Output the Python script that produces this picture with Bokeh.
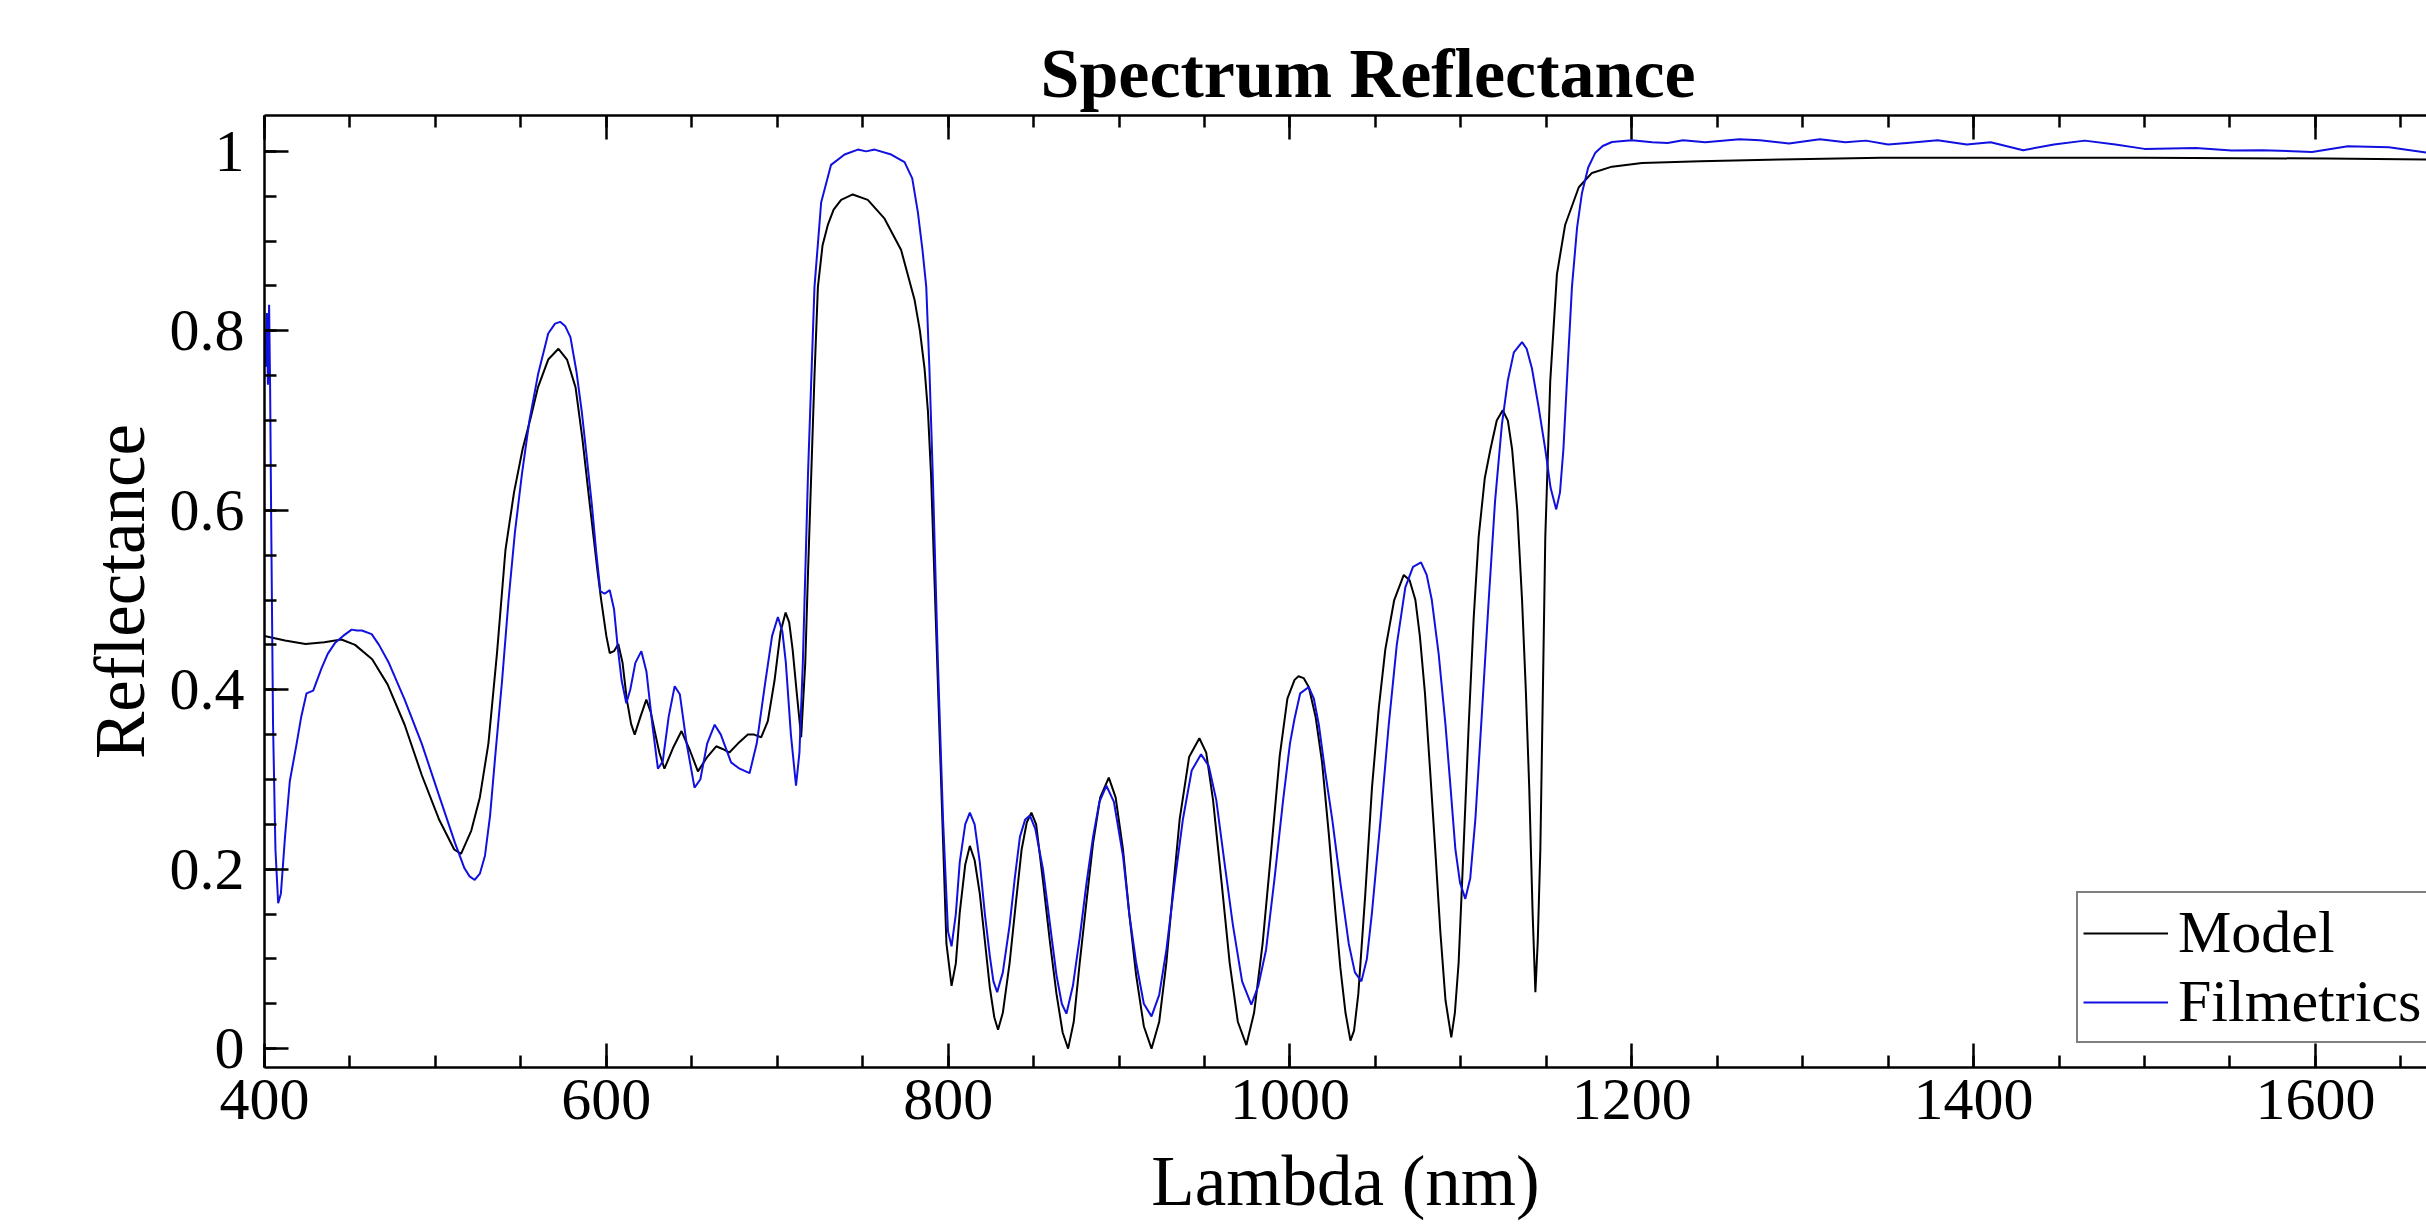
from bokeh.plotting import figure
from bokeh.models import (Range1d, LinearAxis, SingleIntervalTicker, CustomJSTickFormatter,
                          Legend, LegendItem)
from bokeh.embed import file_html
from bokeh.resources import INLINE

# ---- data ----
lam_model = [400, 412, 424, 435, 445, 453, 463, 472, 482, 492, 502, 511, 515, 521, 526, 531, 536,
             541, 546, 551, 556, 560, 566, 572, 577, 582, 586, 590, 595, 597, 600, 602, 604.5, 607,
             609.5, 612, 614.5, 616.6, 620, 623.4, 626, 628.3, 631, 634, 639, 644, 649, 653.6, 659,
             664.3, 668, 672, 677, 682.8, 686.5, 690.6, 694.5, 698.4, 702, 704.9, 707, 709, 711.5,
             714, 716.4, 718, 719.9, 721.8, 723.8, 726.5, 729.6, 733, 737.4, 744.2, 753, 762.8,
             772.5, 780.3, 783.5, 786.2, 788.2, 790, 793, 796, 799, 802,
             804.5, 806.8, 810, 812.7, 815.5, 818.5, 821.5, 824.4, 827, 829.2, 832, 836, 839.5, 843,
             846, 848.7, 851.5, 855.5, 859.5, 863.4, 867, 870.2, 873.5, 877, 881, 884.8, 889, 894,
             898, 902.3, 906, 910, 914.5, 919, 923.5, 927.7, 931.5, 935.5, 941, 947, 951, 955, 960,
             964.7, 969.5, 974.5, 979, 984, 989, 994, 998.5, 1002.7, 1005, 1008, 1011, 1015, 1018.8,
             1022.7, 1026.6, 1029.5, 1032.5, 1035.4, 1037.5, 1040, 1044, 1048, 1052, 1055.8, 1061,
             1066.6, 1070, 1073.4, 1076, 1079, 1082, 1085, 1088, 1091, 1094.4, 1096.5, 1098.7,
             1101.5, 1104.6, 1107.5, 1110.4, 1114, 1117.3, 1121, 1124.5, 1127.5, 1130, 1133, 1135.8,
             1138, 1140, 1142, 1143.6, 1145, 1146.5, 1148, 1149.4, 1152.3, 1156.2, 1161, 1169,
             1176.7, 1188.4, 1206, 1240, 1287, 1346, 1420, 1500, 1607, 1666]
r_model = [0.460, 0.455, 0.451, 0.453, 0.456, 0.450, 0.434, 0.406, 0.361, 0.305, 0.256, 0.222,
           0.217, 0.243, 0.280, 0.340, 0.440, 0.556, 0.620, 0.668, 0.705, 0.737, 0.768, 0.780, 0.768,
           0.737, 0.680, 0.612, 0.530, 0.500, 0.460, 0.441, 0.443, 0.451, 0.430, 0.389, 0.362, 0.350,
           0.370, 0.389, 0.375, 0.354, 0.330, 0.312, 0.335, 0.354, 0.332, 0.309, 0.325, 0.337, 0.334,
           0.330, 0.340, 0.350, 0.350, 0.347, 0.365, 0.410, 0.465, 0.486, 0.475, 0.445, 0.395, 0.347,
           0.430, 0.530, 0.640, 0.750, 0.849, 0.895, 0.918, 0.935, 0.946, 0.952, 0.946, 0.925, 0.890,
           0.835, 0.800, 0.758, 0.710, 0.640, 0.466, 0.291, 0.117, 0.070,
           0.095, 0.152, 0.205, 0.226, 0.210, 0.173, 0.120, 0.068, 0.035, 0.021, 0.040, 0.096, 0.160,
           0.222, 0.252, 0.263, 0.250, 0.187, 0.120, 0.061, 0.018, 0.000, 0.030, 0.096, 0.165, 0.229,
           0.280, 0.302, 0.280, 0.222, 0.150, 0.082, 0.025, 0.000, 0.030, 0.096, 0.175, 0.256, 0.325,
           0.346, 0.330, 0.277, 0.185, 0.096, 0.030, 0.004, 0.040, 0.117, 0.220, 0.326, 0.390, 0.411,
           0.415, 0.413, 0.403, 0.370, 0.319, 0.240, 0.152, 0.090, 0.040, 0.009, 0.020, 0.061, 0.170,
           0.291, 0.380, 0.445, 0.500, 0.528, 0.522, 0.500, 0.460, 0.396, 0.310, 0.222, 0.130, 0.054,
           0.0125, 0.040, 0.096, 0.220, 0.361, 0.480, 0.570, 0.636, 0.668, 0.700, 0.7115, 0.700,
           0.668, 0.600, 0.500, 0.400, 0.291, 0.150, 0.063, 0.120, 0.222, 0.400, 0.570, 0.744, 0.863,
           0.918, 0.960, 0.976, 0.983, 0.987, 0.989, 0.991, 0.993, 0.993, 0.993, 0.992, 0.991]

lam_film = [400, 400.7, 401.4, 402, 402.7, 403.3, 404, 405, 406.4, 408, 409.6, 412, 414.8, 418.8,
            421.5, 424.6, 428.5, 433.4, 437, 441.2, 446, 451, 454, 457, 462.7, 467, 472.5, 482, 492,
            501.8, 511.5, 517, 520, 523, 526, 529, 532, 535, 539, 542.8, 546.5, 550.6, 555, 560, 566,
            570, 573, 576, 579, 582.5, 585.7, 588.5, 591.6, 594, 596.5, 599, 602, 604.5, 606.8, 609,
            611.7, 614, 617, 620.5, 623.5, 627, 630.2, 633, 636.5, 640, 643, 647, 651.6, 655, 659,
            663.4, 667, 673, 678, 683.8, 688, 692.6, 697, 700.4, 703, 705, 708, 711, 713, 715, 718,
            721.8, 725.7, 731.5, 739.4, 747.2, 752, 757, 766.7, 774.5, 779, 782.3, 785, 787.2, 789,
            791, 794, 797, 799.9, 802,
            804.5, 806.8, 810, 812.7, 815.5, 818.5, 821.5, 824.4, 826.5, 828.7, 832, 836, 839, 842,
            845, 847.8, 851, 855.5, 859.5, 863.4, 866.5, 869.2, 873, 877, 881, 884.8, 888.5, 892.6,
            897, 902.3, 906, 910, 914.5, 919, 923.5, 927.7, 932.5, 937.4, 942.5, 948, 952.5, 956.9,
            961.5, 966.6, 972, 977.4, 981.5, 986, 991, 996, 1000, 1002.7, 1006, 1011, 1014, 1016.9,
            1020.5, 1024.7, 1029.5, 1034.4, 1038, 1041.8, 1045, 1048, 1053, 1057.8, 1062.5, 1067.5,
            1072, 1076.7, 1080, 1083, 1087, 1091, 1094, 1096.8, 1099.5, 1102.6, 1105.5, 1108.5,
            1112.5, 1116.3, 1120, 1124, 1127.5, 1131, 1135.8, 1138.5, 1141.6, 1145.5, 1149.4, 1152.5,
            1155.8, 1158, 1160, 1162.5, 1165, 1168, 1170.8, 1174.5, 1178.7, 1183, 1188.4, 1200,
            1212, 1221, 1230, 1243, 1263, 1275, 1292, 1310, 1325, 1337, 1350, 1361, 1379, 1396,
            1410, 1429, 1447, 1465, 1483, 1500, 1530, 1551, 1569, 1598, 1619, 1643, 1666]
r_film = [0.800, 0.760, 0.820, 0.740, 0.829, 0.735, 0.570, 0.361, 0.222, 0.162, 0.173, 0.236, 0.298,
          0.340, 0.370, 0.396, 0.399, 0.424, 0.440, 0.452, 0.460, 0.467, 0.466, 0.466, 0.462, 0.450,
          0.431, 0.389, 0.340, 0.284, 0.229, 0.201, 0.192, 0.188, 0.195, 0.215, 0.260, 0.326, 0.410,
          0.500, 0.575, 0.640, 0.700, 0.751, 0.797, 0.808, 0.810, 0.805, 0.793, 0.755, 0.709, 0.660,
          0.605, 0.555, 0.510, 0.507, 0.511, 0.490, 0.445, 0.410, 0.385, 0.400, 0.430, 0.443, 0.420,
          0.360, 0.312, 0.320, 0.370, 0.404, 0.395, 0.340, 0.291, 0.300, 0.340, 0.361, 0.350, 0.319,
          0.312, 0.307, 0.340, 0.403, 0.460, 0.481, 0.465, 0.431, 0.350, 0.293, 0.330, 0.431, 0.640,
          0.849, 0.943, 0.985, 0.9965, 1.002, 1.000, 1.002, 0.9965, 0.988, 0.970, 0.932, 0.890,
          0.849, 0.760, 0.640, 0.431, 0.256, 0.131, 0.114,
          0.150, 0.208, 0.250, 0.263, 0.250, 0.208, 0.150, 0.103, 0.075, 0.063, 0.085, 0.138, 0.190,
          0.236, 0.255, 0.260, 0.245, 0.200, 0.140, 0.082, 0.050, 0.039, 0.070, 0.124, 0.185, 0.236,
          0.275, 0.293, 0.275, 0.215, 0.150, 0.096, 0.050, 0.036, 0.060, 0.110, 0.185, 0.256, 0.310,
          0.328, 0.315, 0.277, 0.210, 0.138, 0.075, 0.049, 0.070, 0.110, 0.190, 0.277, 0.340, 0.368,
          0.396, 0.403, 0.390, 0.361, 0.310, 0.256, 0.185, 0.117, 0.085, 0.075, 0.100, 0.152, 0.255,
          0.361, 0.450, 0.514, 0.537, 0.542, 0.528, 0.500, 0.440, 0.361, 0.290, 0.222, 0.185, 0.167,
          0.190, 0.256, 0.380, 0.500, 0.610, 0.6955, 0.745, 0.776, 0.7875, 0.780, 0.758, 0.715,
          0.668, 0.625, 0.601, 0.620, 0.668, 0.760, 0.849, 0.915, 0.953, 0.982, 0.9986, 1.006,
          1.0105, 1.0124, 1.0102, 1.0094, 1.0124, 1.0102, 1.0135, 1.0124, 1.0087, 1.0135, 1.0102,
          1.012, 1.0076, 1.0094, 1.0124, 1.0076, 1.0102, 1.0013, 1.0076, 1.012, 1.0076, 1.0028,
          1.0039, 1.0009, 1.0013, 0.9994, 1.0057, 1.0046, 0.9983]

series_names = ["Model", "Filmetrics"]
x_ticks_interval = 200
y_ticks_interval = 0.2

FONT = "Liberation Serif"

p = figure(width=2426, height=1232, output_backend="svg", toolbar_location=None,
           x_range=Range1d(400, 1665), y_range=Range1d(-0.021, 1.040),
           title="Spectrum Reflectance",
           x_axis_label="Lambda (nm)", y_axis_label="Reflectance",
           min_border_left=264, min_border_right=0, min_border_top=115, min_border_bottom=165)

p.grid.visible = False
p.outline_line_color = None
p.background_fill_color = "white"
p.border_fill_color = "white"

p.title.text_font = FONT
p.title.text_font_size = "70px"
p.title.text_font_style = "bold"
p.title.text_color = "black"
p.title.align = "left"
p.title.offset = 776
p.title.standoff = 7

bottom_axis = p.below[0]
left_axis = p.left[0]

xt = SingleIntervalTicker(interval=x_ticks_interval, num_minor_ticks=4)
yt = SingleIntervalTicker(interval=y_ticks_interval, num_minor_ticks=4)
bottom_axis.ticker = xt
left_axis.ticker = yt
left_axis.formatter = CustomJSTickFormatter(code="return (Math.round(tick*10)/10).toString();")

top_axis = LinearAxis(ticker=xt, formatter=CustomJSTickFormatter(code="return '';"),
                      major_label_text_font_size="0px", major_label_standoff=0)
p.add_layout(top_axis, "above")

for ax in [bottom_axis, left_axis, top_axis]:
    ax.axis_line_width = 2.5
    ax.axis_line_color = "black"
    ax.major_tick_in = 24
    ax.major_tick_out = 0
    ax.minor_tick_in = 12
    ax.minor_tick_out = 0
    ax.major_tick_line_width = 2.5
    ax.minor_tick_line_width = 2.5
    ax.major_tick_line_color = "black"
    ax.minor_tick_line_color = "black"

for ax in [bottom_axis, left_axis]:
    ax.major_label_text_font = FONT
    ax.major_label_text_font_size = "60px"
    ax.major_label_text_color = "black"
    ax.axis_label_text_font = FONT
    ax.axis_label_text_font_size = "71px"
    ax.axis_label_text_font_style = "normal"
    ax.axis_label_text_color = "black"

bottom_axis.major_label_standoff = 12
bottom_axis.axis_label_standoff = 20
left_axis.major_label_standoff = 20
left_axis.axis_label_standoff = 8

r1 = p.line(lam_model, r_model, line_color="black", line_width=2)
r2 = p.line(lam_film, r_film, line_color="#1010e0", line_width=2)

legend = Legend(items=[LegendItem(label=series_names[0], renderers=[r1]),
                       LegendItem(label=series_names[1], renderers=[r2])],
                location=(1812, 24), orientation="vertical",
                label_text_font=FONT, label_text_font_size="60px", label_text_color="black",
                glyph_width=85, glyph_height=60, label_height=60, spacing=-9,
                padding=5, margin=0, label_standoff=10,
                border_line_color="black", border_line_width=2,
                background_fill_color="white", background_fill_alpha=1.0)
p.add_layout(legend)

open("out.html", "w").write(file_html(p, INLINE))
